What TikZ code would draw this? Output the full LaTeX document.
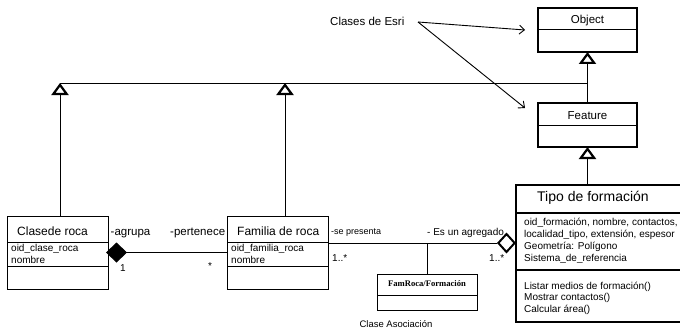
\documentclass[tikz,border=0pt]{standalone}
\usepackage{fontspec}
\setmainfont{Liberation Sans}
\newfontfamily\serifbf{Liberation Serif}
\usetikzlibrary{arrows.meta}
\newcommand{\fs}[1]{\fontsize{#1}{#1}\selectfont}
\begin{document}
\begin{tikzpicture}[x=1pt,y=-1pt,
  thinbox/.style={draw, line width=1pt, anchor=north west, inner sep=0pt, outer sep=0pt},
  thickbox/.style={draw, line width=2.6pt, anchor=north west, inner sep=0pt, outer sep=0pt},
  lbl/.style={anchor=base west, inner sep=0pt},
  conn/.style={line width=1pt},
  gen/.style={line width=1pt, -{Triangle[open, length=12pt, width=17pt, line width=2.2pt]}},
  esriarr/.style={line width=0.9pt, -{Straight Barb[length=5pt, width=9pt]}}
]
\useasboundingbox (0,0) rectangle (680,329);

% Esri classes
\node[thickbox, minimum width=99pt, minimum height=44pt] (obj) at (538,8) {};
\draw[line width=1pt] (538,30) -- (637,30);
\node[anchor=base, inner sep=0pt, font=\fs{11.5}] (objt) at (587.5,24) {Object};

\node[thickbox, minimum width=99pt, minimum height=44pt] (fea) at (538,103) {};
\draw[line width=1pt] (538,125) -- (637,125);
\node[anchor=base, inner sep=0pt, font=\fs{11.5}] (feat) at (587.5,119) {Feature};

\node[lbl, font=\fs{11.5}] (esri) at (330,26) {Clases de Esri};
\coordinate (esrip) at (418,22);
\coordinate (objarr) at (525,30);
\coordinate (feaarr) at (525,108);
\draw[esriarr] (esrip) -- (objarr);
\draw[esriarr] (esrip) -- (feaarr);

% Clasede roca
\node[thinbox, minimum width=101pt, minimum height=73pt] (clase) at (7,216) {};
\draw[line width=1pt] (7,242) -- (108,242);
\draw[line width=1pt] (7,266) -- (108,266);
\node[lbl, font=\fs{12}] (clt) at (17,235.5) {Clasede roca};
\node[lbl, font=\fs{10}] (cla1) at (11,251.5) {oid\_clase\_roca};
\node[lbl, font=\fs{10}] (cla2) at (11,263.5) {nombre};

% Familia de roca
\node[thinbox, minimum width=101pt, minimum height=73pt] (fam) at (227,216) {};
\draw[line width=1pt] (227,242) -- (328,242);
\draw[line width=1pt] (227,266) -- (328,266);
\node[lbl, font=\fs{12}] (famt) at (237,235.5) {Familia de roca};
\node[lbl, font=\fs{10}] (fam1) at (231,251.5) {oid\_familia\_roca};
\node[lbl, font=\fs{10}] (fam2) at (231,263.5) {nombre};

% Tipo de formacion
\node[thickbox, minimum width=168pt, minimum height=137pt] (tipo) at (516,185) {};
\draw[line width=1.2pt] (516,213) -- (684,213);
\draw[line width=2.4pt] (516,270) -- (684,270);
\node[lbl, font=\fs{14}] (tipot) at (537,201) {Tipo de formación};
\node[lbl, font=\fs{10}] (ta1) at (524,225) {oid\_formación, nombre, contactos,};
\node[lbl, font=\fs{10}] (ta2) at (524,237.3) {localidad\_tipo, extensión, espesor};
\node[lbl, font=\fs{10}] (ta3) at (524,249.6) {Geometría: Polígono};
\node[lbl, font=\fs{10}] (ta4) at (524,261.9) {Sistema\_de\_referencia};
\node[lbl, font=\fs{10}] (tm1) at (524,289) {Listar medios de formación()};
\node[lbl, font=\fs{10}] (tm2) at (524,300.5) {Mostrar contactos()};
\node[lbl, font=\fs{10}] (tm3) at (524,312) {Calcular área()};

% Association class
\node[thinbox, minimum width=100pt, minimum height=36pt] (assoc) at (377,274) {};
\draw[line width=1pt] (377,295) -- (477,295);
\node[anchor=base, inner sep=0pt, font=\serifbf\bfseries\fs{8.6}] (asst) at (427,286) {FamRoca/Formación};
\node[anchor=base, inner sep=0pt, font=\fs{9.5}] (assl) at (396,327) {Clase Asociación};

% Generalizations
\coordinate (hub) at (588,83);
\coordinate (clup) at (60,216);
\coordinate (faup) at (285,216);
\draw[conn] (hub) -- (hub -| clup);
\draw[gen] (fea.north) -- (obj.south);
\draw[gen] (clup) -- (clup |- hub);
\draw[gen] (faup) -- (faup |- hub);
\draw[gen] (fea.south |- tipo.north) -- (fea.south);

% Composition
\coordinate (d1) at (106,252.5);
\draw[conn, {Diamond[length=21pt, width=20pt]}-] (d1) -- (d1 -| fam.west);
\node[lbl, font=\fs{11.5}] (agr) at (110.5,235) {-agrupa};
\node[lbl, font=\fs{11.5}] (per) at (170,235) {-pertenece};
\node[lbl, font=\fs{10}] (one) at (120,271.5) {1};
\node[lbl, font=\fs{10}] (star) at (208,269) {*};

% Aggregation
\coordinate (a1) at (328,243);
\draw[conn, -{Diamond[open, length=19pt, width=21pt, line width=2pt]}] (a1) -- (a1 -| tipo.west);
\node[lbl, font=\fs{9}] (sep) at (331,234.5) {-se presenta};
\node[lbl, font=\fs{10}] (agg) at (427,235) {- Es un agregado};
\node[lbl, font=\fs{10}] (m1) at (332,261.5) {1..*};
\node[lbl, font=\fs{10}] (m2) at (489,261.5) {1..*};
\draw[conn] (assoc.north) -- (assoc.north |- a1);
\end{tikzpicture}
\end{document}
